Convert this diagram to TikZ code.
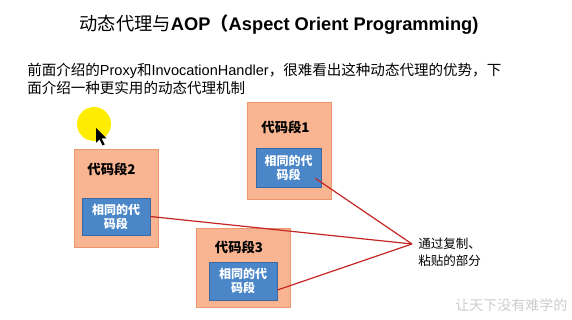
\documentclass[tikz,border=0pt]{standalone}
\usepackage{fontspec}
\setmainfont{Liberation Sans}
\newfontfamily\cjk{Noto Sans CJK SC}
\usetikzlibrary{calc}
\definecolor{boxfill}{RGB}{249,180,146}
\definecolor{boxline}{RGB}{236,150,108}
\definecolor{innerfill}{RGB}{74,134,200}
\definecolor{innerline}{RGB}{58,104,160}
\definecolor{linkred}{RGB}{196,38,36}
\definecolor{markgray}{RGB}{205,205,205}
\tikzset{
  codebox/.style={draw=boxline, line width=0.6pt, fill=boxfill, inner sep=0pt},
  innerbox/.style={draw=innerline, line width=0.6pt, fill=innerfill, inner sep=0pt,
    text=white, align=center, font=\cjk\bfseries\fontsize{9}{10.5}\selectfont},
  boxlabel/.style={font=\cjk\bfseries\fontsize{10}{12}\selectfont, inner sep=0pt},
  link/.style={draw=linkred, line width=0.9pt},
}
\begin{document}
\begin{tikzpicture}[x=0.75pt,y=-0.75pt]
  \path[fill=white,use as bounding box] (0,0) rectangle (572,320);

  % heading
  \node[inner sep=0pt, font=\bfseries\fontsize{13.7}{16}\selectfont] (title) at (279,25)
    {{\cjk\mdseries 动态代理与}AOP{\cjk （}Aspect Orient Programming)};

  % introduction text
  \node[anchor=west, inner sep=0pt, align=left, font=\fontsize{10.9}{13.5}\selectfont] (intro) at (27,79)
    {{\cjk 前面介绍的}Proxy{\cjk 和}InvocationHandler{\cjk ，很难看出这种动态代理的优势，下}\\
     {\cjk 面介绍一种更实用的动态代理机制}};

  % pointer highlight
  \fill[yellow!95!orange] (94,124) circle (17);
  \fill[black] (96,128) -- ++(0,15) -- ++(3.5,-3.5) -- ++(3,6) -- ++(2.2,-1) -- ++(-3,-6)
    -- ++(5,0) -- cycle;

  % code segment 2
  \node[codebox, minimum width=63pt, minimum height=73.5pt] (seg2) at (116,198) {};
  \node[boxlabel] (seg2lbl) at (111.5,169) {代码段2};
  \node[innerbox, minimum width=51pt, minimum height=27.75pt] (seg2in) at (116,216.5) {相同的代\\码段};

  % code segment 1
  \node[codebox, minimum width=63pt, minimum height=72.75pt] (seg1) at (289,150.5) {};
  \node[boxlabel] (seg1lbl) at (285.5,127) {代码段1};
  \node[innerbox, minimum width=48.75pt, minimum height=29.25pt] (seg1in) at (288.5,167.5) {相同的代\\码段};

  % code segment 3
  \node[codebox, minimum width=70.5pt, minimum height=59.25pt] (seg3) at (243,267.5) {};
  \node[boxlabel] (seg3lbl) at (239,247) {代码段3};
  \node[innerbox, minimum width=51pt, minimum height=28.5pt] (seg3in) at (243,281) {相同的代\\码段};

  % note and its pointers
  \coordinate (meet) at (412,244);
  \node[anchor=west, inner sep=0pt, align=left, font=\cjk\fontsize{9.4}{13}\selectfont] (note) at (418,252)
    {通过复制、\\粘贴的部分};
  \draw[link] (seg2in.east) -- (meet);
  \draw[link] ($(seg1in.south east)+(-6,-9)$) -- (meet);
  \draw[link] ($(seg3in.east)+(0,9)$) -- (meet);

  % watermark
  \node[anchor=west, inner sep=0pt, text=markgray, font=\cjk\fontsize{10.5}{12}\selectfont] (mark) at (455,305)
    {让天下没有难学的};
\end{tikzpicture}
\end{document}
